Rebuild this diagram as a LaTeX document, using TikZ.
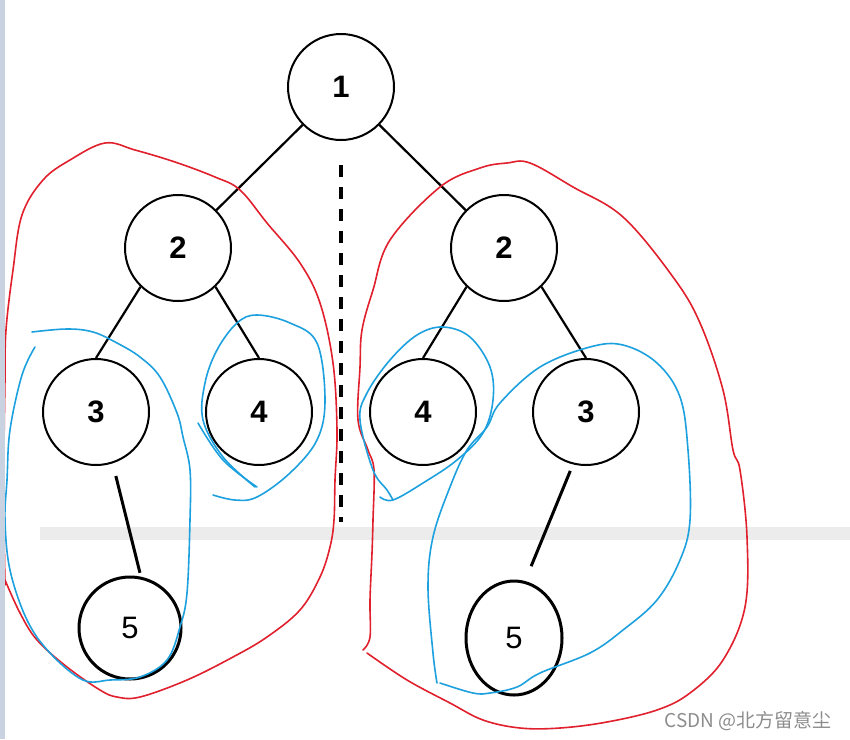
\documentclass[tikz,border=0pt]{standalone}
\usepackage{fontspec}
\setmainfont{Liberation Sans}
\newfontfamily\cjk{Noto Sans CJK SC}
\usetikzlibrary{shapes.geometric}
\definecolor{penred}{RGB}{224,32,44}
\definecolor{penblue}{RGB}{28,160,222}
\definecolor{bandgray}{RGB}{236,236,236}
\definecolor{sidegray}{RGB}{200,210,224}

\begin{document}
\begin{tikzpicture}[x=1pt,y=-1pt,
    tnode/.style={circle,draw,line width=2pt,minimum size=106pt,inner sep=0pt,font=\fontsize{31}{31}\selectfont\bfseries},
    leaf/.style={draw,line width=3pt,inner sep=0pt,font=\fontsize{31}{31}\selectfont},
    edge/.style={line width=2.2pt},
    redpen/.style={penred,line width=1.6pt,line join=round,line cap=round},
    bluepen/.style={penblue,line width=1.6pt,line join=round,line cap=round}]
  \useasboundingbox (0,0) rectangle (850,739);
  \fill[bandgray] (40,527) rectangle (850,540);

  % the tree
  \node[tnode] (r)   at (341,87)  {1};
  \node[tnode] (l2)  at (178,248) {2};
  \node[tnode] (rr2) at (504,248) {2};
  \node[tnode] (l3)  at (96,412)  {3};
  \node[tnode] (l4)  at (259,412) {4};
  \node[tnode] (rr4) at (423,412) {4};
  \node[tnode] (rr3) at (586,412) {3};
  \node[leaf,circle,minimum size=102pt] (l5) at (130,628) {5};
  \node[leaf,ellipse,minimum width=96pt,minimum height=114pt] (rr5) at (514,638) {5};

  \draw[edge] (r) -- (l2);
  \draw[edge] (r) -- (rr2);
  \draw[edge] (l2.-134) -- (l3.north);
  \draw[edge] (l2.-46) -- (l4.north);
  \draw[edge] (rr2.-134) -- (rr4.north);
  \draw[edge] (rr2.-46) -- (rr3.north);
  \draw[edge,line width=3pt,shorten <=13pt,shorten >=4pt] (l3.-72) -- (l5.78);
  \draw[edge,line width=3pt,shorten <=7pt,shorten >=16pt] (rr3.-104) -- (rr5.79);

  % the cut between the two halves
  \coordinate (cuttop) at (341,165);
  \coordinate (cutbot) at (341,522);
  \draw[line width=3.5pt,dash pattern=on 12pt off 10pt] (cuttop) -- (cutbot);

  % red pen
  \draw[redpen] plot[smooth,tension=.6] coordinates {(5,585) (4,520) (4,450) (5,380) (6,330) (13,270) (22,215) (43,180) (70,160) (105,143) (135,150) (175,162) (215,177) (240,190) (267,223) (300,263) (320,303) (333,363) (337,430) (335,480) (334,520) (330,547) (320,577) (300,610) (267,637) (233,657) (187,680) (140,697) (117,697) (100,690) (67,667) (37,640) (20,613) (5,580)};
  \draw[redpen] plot[smooth,tension=.6] coordinates {(363,650) (370,637) (370,600) (372,553) (373,520) (374,470) (368,450) (358,420) (360,367) (362,330) (373,290) (390,240) (440,187) (480,168) (507,163) (530,163) (573,187) (623,217) (673,277) (700,323) (723,390) (733,450) (740,470) (747,537) (745,607) (723,660) (690,693) (657,710) (607,722) (560,728) (520,728) (483,720) (450,703) (407,680) (367,653)};

  % blue pen
  \draw[bluepen] plot[smooth,tension=.6] coordinates {(35,347) (22,375) (10,430) (7,480) (5,520) (10,570) (27,620) (50,653) (83,680) (110,680) (140,677) (167,660) (180,627) (187,593) (190,520) (190,470) (183,437) (177,413) (160,377) (140,357) (117,343) (93,332) (67,329) (32,332)};
  \draw[bluepen] plot[smooth,tension=.6] coordinates {(213,495) (235,500) (257,497) (290,473) (317,440) (325,400) (317,343) (290,323) (257,315) (237,323) (217,350) (205,383) (203,420) (223,457) (255,487)};
  \draw[bluepen] plot[smooth,tension=.6] coordinates {(198,423) (223,460) (257,487)};
  \draw[bluepen] plot[smooth,tension=.6] coordinates {(380,497) (393,500) (423,483) (457,460) (483,433) (493,400) (490,367) (470,337) (443,327) (417,335) (390,360) (367,393) (360,420) (373,470) (387,490) (393,500)};
  \draw[bluepen] plot[smooth,tension=.6] coordinates {(437,683) (433,653) (428,587) (433,537) (450,487) (467,450) (487,427) (500,403) (540,367) (590,347) (623,345) (657,363) (680,397) (688,450) (690,520) (680,560) (657,600) (623,630) (590,653) (540,673) (517,687) (490,693) (473,693) (440,683)};

  \fill[sidegray] (0,0) rectangle (5,739);
  \node[anchor=base east,text=black!45,font=\cjk\fontsize{19}{19}\selectfont] (mark) at (835,727) {CSDN @北方留意尘};
\end{tikzpicture}
\end{document}
